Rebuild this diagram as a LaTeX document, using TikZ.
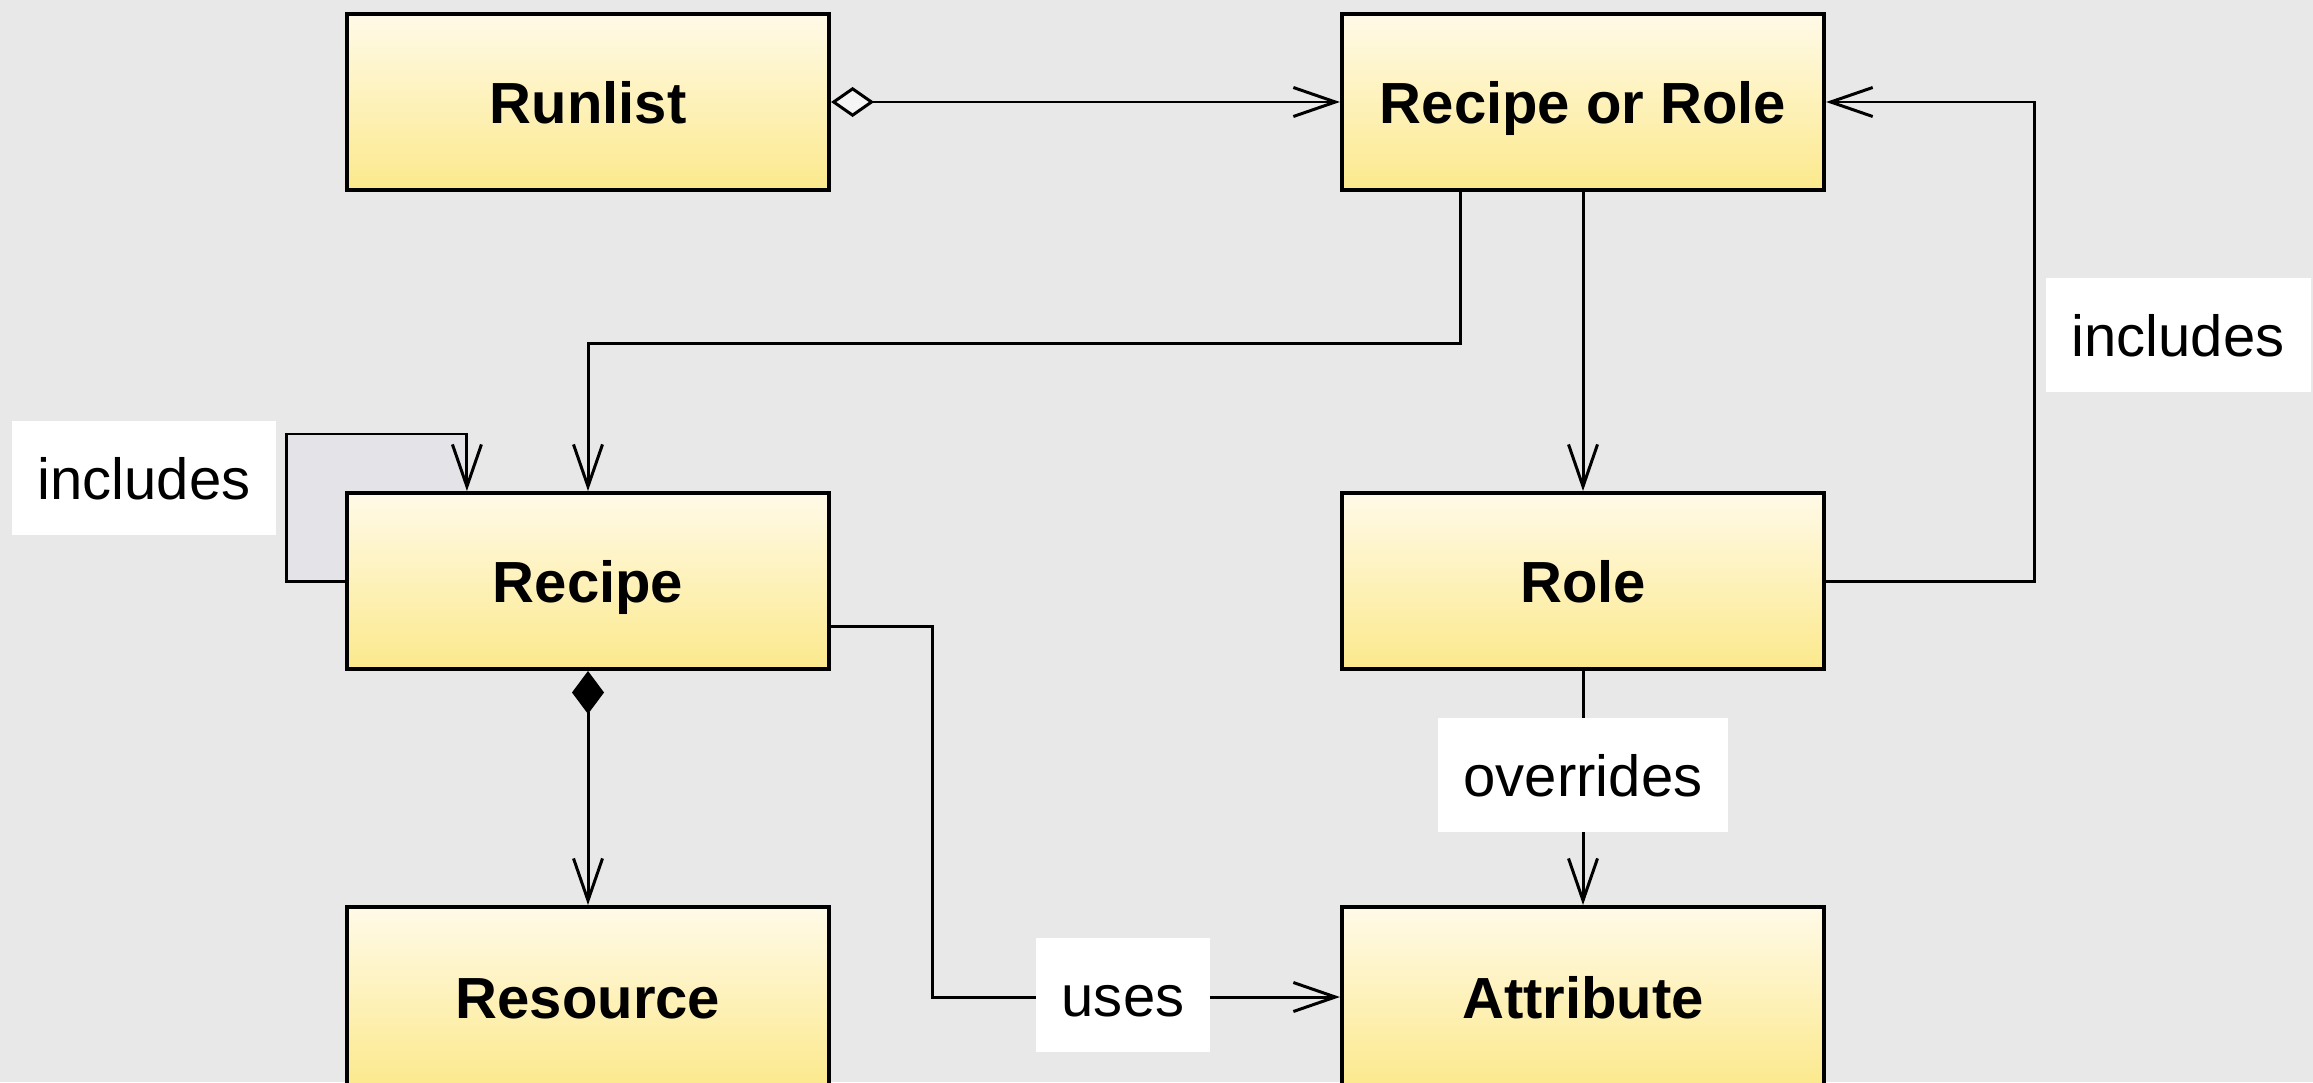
\documentclass[tikz,border=0pt]{standalone}
\usepackage{fontspec}
\setmainfont{Liberation Sans}
\usetikzlibrary{arrows.meta}
\definecolor{bgcol}{HTML}{E8E8E8}
\definecolor{boxtop}{HTML}{FFFAE8}
\definecolor{boxbot}{HTML}{FCE98C}
\definecolor{loopcol}{HTML}{E3E3E8}
\tikzset{
  cls/.style={draw=black, line width=1.1pt, top color=boxtop, bottom color=boxbot,
    minimum width=4.82cm, minimum height=1.76cm, text height=0.5cm, text depth=0.08cm,
    font=\bfseries\fontsize{16.5}{20}\selectfont},
  lbl/.style={fill=white, inner xsep=0.26cm, minimum height=1.14cm, text height=0.5cm, text depth=0.08cm,
    font=\fontsize{16.5}{20}\selectfont},
  barb/.tip={Straight Barb[length=0.42cm, width=0.29cm]},
  assoc/.style={line width=0.85pt, -barb},
  aggr/.style={line width=0.85pt, {Diamond[length=0.43cm, width=0.3cm, fill=gray!8]}-barb},
  comp/.style={line width=0.85pt, {Diamond[length=0.43cm, width=0.32cm]}-barb}
}
\begin{document}
\begin{tikzpicture}[x=0.01cm, y=-0.01cm]
      \def\xl{588}
      \def\xr{1583}
      \useasboundingbox (0,0) rectangle (2313,1082);
      \fill[bgcol] (0,0) rectangle (2313,1082);
      \fill[loopcol] (287,434) rectangle (467,582);   % behind the self loop
      %
      \node[cls] (runlist) at (\xl,102) {Runlist};
      \node[cls] (ror) at (\xr,102) {Recipe or Role};
      \node[cls] (recipe) at (\xl,581) {Recipe};
      \node[cls] (role) at (\xr,581) {Role};
      \node[cls, minimum height=1.8cm] (resource) at (\xl,997) {Resource};
      \node[cls, minimum height=1.8cm] (attribute) at (\xr,997) {Attribute};
      %
      \draw[aggr] (runlist.east) -- (ror.west);
      \draw[assoc] ([xshift=-1.22cm]ror.south) -- ++(0,152) -| (recipe.north);
      \draw[assoc] (ror) -- (role);
      \draw[assoc] (role.east) -- ++(208,0) |- (ror.east);
      \draw[assoc] (recipe.west) -- ++(-58,0) -- ++(0,-147) -| ([xshift=-1.21cm]recipe.north);
      \draw[comp] (recipe) -- (resource);
      \draw[assoc] ([yshift=-0.45cm]recipe.east) -- ++(101,0) |- (attribute.west);
      \draw[assoc] (role) -- (attribute);
      %
      \node[lbl] (inclself) at (144,478) {includes};
      \node[lbl] (inclrole) at (2178,335) {includes};
      \node[lbl] (overrides) at (\xr,775) {overrides};
      \node[lbl] (uses) at (1123,995) {uses};
      %
\end{tikzpicture}
\end{document}
